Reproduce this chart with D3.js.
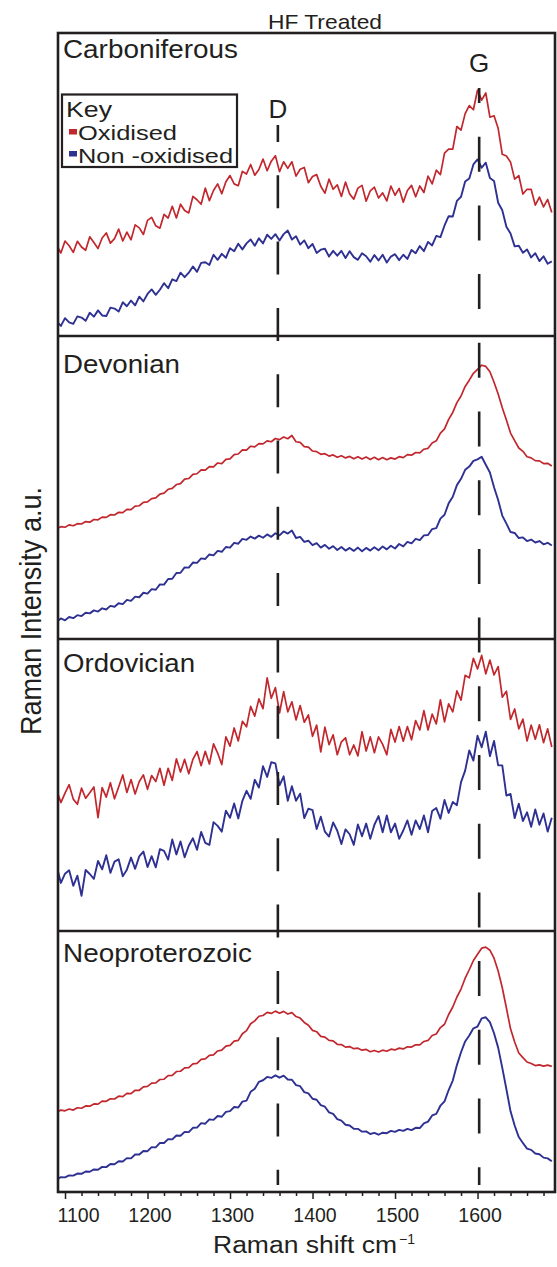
<!DOCTYPE html>
<html>
<head>
<meta charset="utf-8">
<script src="https://cdn.jsdelivr.net/npm/d3@7"></script>
<style>
  body { margin: 0; background: #fff; }
  text { font-family: "Liberation Sans", Arial, sans-serif; fill: #231f20; }
</style>
</head>
<body>
<svg id="chart" width="557" height="1267"></svg>
<script>
// raman shift grid (cm-1), one reading every 5 cm-1
var shift = d3.range(1090, 1695, 5);

var periods = ["Carboniferous", "Devonian", "Ordovician", "Neoproterozoic"];
var xTicks = [1100, 1200, 1300, 1400, 1500, 1600];
var bands = ["D", "G"];
var bandPos = [1358, 1602];

// intensities in a.u., each panel normalised 0-100
var carbOx = [29.6,27.1,31.1,29.5,27.3,31.0,29.1,28.0,32.5,30.6,
  28.6,32.1,33.8,30.4,31.9,35.1,31.1,34.1,31.5,36.5,
  35.5,33.3,38.0,39.0,36.2,35.4,40.0,38.8,42.7,38.8,
  43.4,41.3,40.5,46.0,44.9,43.4,48.8,44.6,48.0,50.2,
  46.9,50.9,53.0,50.2,49.6,54.4,53.5,56.7,53.1,55.0,
  58.5,54.6,57.8,59.6,54.3,57.6,55.4,57.6,52.8,55.1,
  55.7,50.6,52.7,53.3,49.4,47.1,51.8,48.4,49.9,46.0,
  50.8,46.8,45.1,48.8,49.7,44.4,47.9,49.1,45.5,47.2,
  44.5,49.5,46.4,48.7,44.1,48.0,49.7,45.9,49.5,47.3,
  52.8,50.2,54.8,53.3,60.5,61.8,61.8,69.4,68.2,73.7,
  76.4,75.0,81.6,78.2,80.6,72.5,73.0,68.8,60.1,59.5,
  57.5,51.8,53.0,46.8,48.4,48.4,43.1,45.8,42.5,45.0,
  40.6];
var carbNon = [4.2,2.7,5.3,3.9,3.4,5.9,5.5,4.4,7.1,5.8,
  7.9,6.2,6.0,8.8,8.5,7.5,10.6,9.3,11.2,9.6,
  12.5,10.9,13.4,14.9,13.1,14.8,17.0,15.3,18.3,17.7,
  20.5,19.0,20.5,22.6,20.8,23.8,24.0,23.1,26.5,24.8,
  26.8,25.5,28.7,27.7,30.2,28.3,30.3,31.6,29.5,32.0,
  30.3,33.2,31.8,33.4,31.3,33.4,34.6,31.6,32.7,29.9,
  31.3,28.7,30.1,27.1,28.2,28.5,25.9,27.8,26.2,27.8,
  25.4,27.7,25.7,24.8,27.0,26.0,24.2,26.4,24.6,26.5,
  23.9,25.9,26.7,24.7,26.5,25.1,28.1,27.0,29.4,27.7,
  30.8,29.6,32.8,32.4,36.3,39.4,39.3,44.5,45.9,51.0,
  52.0,56.7,58.4,55.6,57.3,52.2,51.2,43.9,41.4,35.9,
  33.6,29.3,29.5,27.2,28.3,25.6,27.0,24.4,26.0,23.5,
  24.3];
var devOx = [36.2,36.9,36.7,37.5,37.2,37.9,37.8,38.6,38.4,39.3,
  39.2,40.1,40.0,40.9,40.8,41.7,41.6,42.7,42.6,43.8,
  43.9,45.0,45.2,46.3,46.5,47.8,48.1,49.4,49.7,51.0,
  51.3,52.8,53.0,54.4,54.6,55.9,55.8,57.0,56.9,58.2,
  58.0,59.4,59.6,61.0,61.2,62.6,62.5,63.8,63.6,64.7,
  64.6,65.6,65.3,66.4,66.0,66.9,66.3,67.4,65.3,65.1,
  63.7,63.5,62.2,62.0,61.1,61.3,60.5,60.9,60.1,60.6,
  59.9,60.4,59.6,60.3,59.5,60.2,59.4,60.1,59.3,60.0,
  59.3,59.9,59.5,60.3,60.0,61.0,60.8,61.7,61.6,62.8,
  63.1,64.9,65.6,68.2,69.6,72.8,75.1,78.4,80.6,83.8,
  85.9,88.2,89.5,90.9,90.5,88.7,85.2,81.3,76.7,72.6,
  68.2,65.7,63.2,62.1,60.3,59.9,59.0,58.9,58.0,58.1,
  57.2];
var devNon = [5.1,6.2,5.6,6.7,6.3,7.3,7.0,8.1,7.9,8.9,
  8.5,9.6,9.2,10.4,10.1,11.3,11.0,12.4,12.1,13.5,
  13.3,14.8,14.5,16.0,15.8,17.6,17.5,19.4,19.5,21.4,
  21.5,23.3,23.2,24.9,24.8,26.3,26.1,27.6,27.3,28.8,
  28.5,30.1,29.9,31.5,31.2,32.8,32.5,33.6,32.9,33.9,
  33.2,34.3,33.5,34.7,34.0,35.3,34.6,35.6,33.1,33.5,
  31.8,32.2,30.7,31.4,29.9,30.8,29.5,30.4,29.1,30.1,
  28.9,29.8,28.8,29.9,28.7,29.8,28.9,30.0,29.0,30.3,
  29.3,30.5,29.6,31.1,30.3,31.8,31.3,32.8,32.4,34.0,
  34.1,36.1,36.4,39.6,40.9,44.7,46.9,50.8,52.9,55.9,
  57.0,58.9,59.4,60.3,57.6,55.0,50.1,45.8,40.6,37.9,
  35.1,34.8,33.1,33.3,32.1,32.6,31.6,32.1,31.0,31.5,
  30.6];
var ordOx = [48.1,43.9,47.2,50.1,45.1,43.3,48.9,45.4,47.3,49.3,
  38.7,49.1,45.8,50.8,45.2,49.3,53.5,47.4,51.9,46.9,
  51.2,53.5,48.5,53.3,51.2,55.8,49.9,55.8,51.6,59.1,
  54.5,58.9,53.9,58.9,61.6,56.7,61.7,57.3,64.3,61.1,
  57.1,66.7,63.5,69.8,65.3,72.1,70.2,77.3,73.9,79.9,
  76.5,87.2,80.1,83.8,75.0,82.4,75.4,78.9,72.6,77.6,
  71.8,74.3,66.9,70.8,61.5,70.1,64.0,67.4,60.5,65.0,
  66.4,60.5,63.9,60.1,68.5,61.8,66.7,61.2,66.7,64.1,
  60.5,69.3,64.9,70.3,65.2,70.3,65.7,72.4,69.1,75.8,
  69.1,74.6,71.2,79.6,71.9,78.2,75.4,82.7,79.5,88.1,
  87.2,94.0,90.3,95.0,88.6,93.4,88.2,91.1,80.5,82.6,
  72.8,76.4,69.5,72.9,65.3,70.8,65.9,70.9,64.7,69.5,
  63.2];
var ordNon = [21.7,16.0,19.2,20.4,15.0,18.5,11.5,20.5,19.1,17.4,
  23.6,20.7,25.6,19.5,23.4,24.2,18.3,20.6,24.8,20.9,
  25.2,26.9,21.5,25.3,21.4,27.7,27.1,24.1,31.1,25.9,
  30.4,24.9,28.9,31.5,27.5,33.7,29.9,29.2,37.1,35.8,
  33.8,41.1,38.6,43.6,38.4,44.5,48.0,45.2,51.8,49.1,
  56.5,52.8,57.9,57.5,49.9,53.0,44.5,49.6,44.5,47.0,
  38.5,41.8,41.3,34.7,39.0,33.8,32.1,37.0,34.1,29.5,
  34.6,32.9,29.2,36.3,32.2,36.6,31.3,36.2,39.2,33.6,
  39.4,33.6,36.6,31.3,34.2,37.7,32.7,37.7,34.7,39.4,
  33.6,41.0,42.0,38.3,44.8,40.3,44.1,43.0,51.0,55.0,
  62.0,58.5,67.1,63.1,68.5,60.0,65.3,56.8,56.8,46.3,
  46.9,38.5,43.5,37.5,40.5,35.5,41.5,36.2,40.1,33.8,
  38.6];
var neoOx = [30.3,31.1,30.8,31.5,31.1,32.0,31.8,32.7,32.6,33.5,
  33.4,34.6,34.5,35.5,35.4,36.5,36.3,37.6,37.5,38.8,
  38.8,40.1,40.3,41.6,41.7,43.0,43.1,44.5,44.6,46.1,
  46.2,47.5,47.6,49.1,49.3,50.8,51.0,52.4,52.6,54.1,
  54.4,56.0,56.3,57.9,58.2,60.8,62.0,64.7,65.8,67.6,
  67.9,69.1,68.7,69.6,68.8,69.5,68.5,69.0,67.5,66.9,
  65.2,64.1,62.1,61.6,59.8,59.5,58.2,58.0,56.7,56.6,
  55.6,55.8,55.0,55.2,54.4,54.7,53.8,54.3,53.7,54.4,
  54.0,54.8,54.5,55.2,54.9,55.7,55.6,56.5,56.5,57.8,
  58.2,60.1,60.7,63.2,64.5,68.3,71.2,75.1,78.2,82.4,
  85.7,89.3,91.7,94.1,94.5,93.3,90.2,85.2,78.7,70.8,
  62.7,57.6,53.3,51.5,49.8,49.2,48.4,48.7,48.2,48.6,
  48.1];
var neoNon = [4.1,5.0,4.9,5.7,5.6,6.4,6.3,7.2,7.1,8.0,
  7.9,9.0,8.9,10.1,10.0,11.2,11.1,12.4,12.3,13.8,
  13.8,15.2,15.1,16.7,16.6,18.3,18.3,19.8,19.7,21.2,
  21.1,22.6,22.5,24.2,24.3,26.0,25.8,27.5,27.3,28.8,
  28.5,30.4,30.7,32.3,32.1,34.4,34.8,38.2,39.4,42.1,
  42.7,44.0,43.6,44.6,43.7,44.5,43.0,42.9,40.8,40.4,
  38.1,37.6,35.5,35.1,33.0,32.4,30.2,29.6,27.6,27.0,
  25.4,25.1,23.8,23.8,22.7,22.8,21.8,22.2,21.5,22.3,
  22.1,23.0,22.6,23.4,23.0,23.8,23.3,24.2,24.1,25.9,
  26.6,29.0,29.6,32.8,34.5,38.9,42.6,48.6,53.6,57.8,
  60.1,62.9,63.6,66.8,67.2,65.3,61.0,55.4,47.5,39.2,
  30.6,25.1,20.6,18.3,16.1,15.6,14.2,13.9,12.6,12.3,
  11.2];

var oxSeries = [carbOx, devOx, ordOx, neoOx];
var nonSeries = [carbNon, devNon, ordNon, neoNon];

var RED = "#c1272d", BLUE = "#2e3192", INK = "#231f20";

var svg = d3.select("#chart");
var left = 58, right = 555;
var tops = [33, 336, 639, 931], bottom = 1192;
var labelDrop = [25, 37, 33, 31];
var labelWidth = [175, 117, 132, 189];

var x = d3.scaleLinear().domain([1091.5, 1693.9]).range([left, right]);

svg.append("clipPath").attr("id", "clip")
  .append("rect").attr("x", left).attr("y", tops[0])
  .attr("width", right - left).attr("height", bottom - tops[0]);

var plots = svg.append("g").attr("clip-path", "url(#clip)");

periods.forEach(function(name, i) {
  var y0 = tops[i], y1 = i < 3 ? tops[i + 1] : bottom;
  var y = d3.scaleLinear().domain([0, 100]).range([y1 - 2, y0 + 2]);
  var line = d3.line()
    .x(function(d, j) { return x(shift[j]); })
    .y(function(d) { return y(d); });

  plots.append("path").datum(oxSeries[i])
    .attr("d", line).attr("fill", "none")
    .attr("stroke", RED).attr("stroke-width", 1.7)
    .attr("stroke-linejoin", "round");
  plots.append("path").datum(nonSeries[i])
    .attr("d", line).attr("fill", "none")
    .attr("stroke", BLUE).attr("stroke-width", 1.9)
    .attr("stroke-linejoin", "round");

  svg.append("text")
    .attr("x", 63).attr("y", y0 + labelDrop[i])
    .attr("font-size", 25)
    .attr("textLength", labelWidth[i]).attr("lengthAdjust", "spacingAndGlyphs")
    .text(name);
});

// D and G band markers
var bandTop = [125, 88], dash = ["33,33.3", "35,33.7"], dashOff = [16, 20];
svg.selectAll(".band").data(bands).enter().append("line")
  .attr("class", "band")
  .attr("x1", function(d, i) { return x(bandPos[i]); })
  .attr("x2", function(d, i) { return x(bandPos[i]); })
  .attr("y1", function(d, i) { return bandTop[i]; })
  .attr("y2", 1185)
  .attr("stroke", INK).attr("stroke-width", 2.6)
  .attr("stroke-dasharray", function(d, i) { return dash[i]; })
  .attr("stroke-dashoffset", function(d, i) { return dashOff[i]; });

var bandLabelY = [118, 72];
svg.selectAll(".bandLabel").data(bands).enter().append("text")
  .attr("x", function(d, i) { return x(bandPos[i]); })
  .attr("y", function(d, i) { return bandLabelY[i]; })
  .attr("text-anchor", "middle").attr("font-size", 26)
  .text(function(d) { return d; });

// frame + panel dividers
svg.append("rect")
  .attr("x", left).attr("y", tops[0])
  .attr("width", right - left).attr("height", bottom - tops[0])
  .attr("fill", "none").attr("stroke", INK).attr("stroke-width", 2.6);
svg.selectAll(".divider").data(tops.slice(1)).enter().append("line")
  .attr("x1", left).attr("x2", right)
  .attr("y1", function(d) { return d; }).attr("y2", function(d) { return d; })
  .attr("stroke", INK).attr("stroke-width", 2.6);

// x axis
var minor = d3.range(1100, 1700, 20).filter(function(d) { return d % 100 !== 0; });
var axMinor = svg.append("g").attr("transform", "translate(0," + bottom + ")")
  .call(d3.axisBottom(x).tickValues(minor).tickSize(4).tickFormat(""));
var axMajor = svg.append("g").attr("transform", "translate(0," + bottom + ")")
  .call(d3.axisBottom(x).tickValues(xTicks).tickSize(7).tickPadding(9.5)
    .tickFormat(d3.format("d")));
[axMinor, axMajor].forEach(function(g) {
  g.select(".domain").remove();
  g.selectAll("line").attr("stroke", INK).attr("stroke-width", 1.5);
});
axMajor.selectAll("text")
  .attr("font-size", 19.5).attr("font-family", "Liberation Sans, Arial")
  .attr("fill", INK)
  .attr("dx", function(d) { return d === 1100 ? 13 : 2; });

svg.append("text")
  .attr("x", 213).attr("y", 1253).attr("font-size", 23)
  .attr("textLength", 184).attr("lengthAdjust", "spacingAndGlyphs")
  .text("Raman shift cm");
svg.append("text")
  .attr("x", 399).attr("y", 1244).attr("font-size", 14)
  .text("\u22121");

svg.append("text")
  .attr("transform", "translate(41,611) rotate(-90)")
  .attr("text-anchor", "middle").attr("font-size", 30)
  .attr("textLength", 248).attr("lengthAdjust", "spacingAndGlyphs")
  .text("Raman Intensity a.u.");

svg.append("text")
  .attr("x", 268).attr("y", 29).attr("font-size", 21)
  .attr("textLength", 114).attr("lengthAdjust", "spacingAndGlyphs")
  .text("HF Treated");

// key
var key = svg.append("g");
key.append("rect")
  .attr("x", 62).attr("y", 94.5).attr("width", 175).attr("height", 72.5)
  .attr("fill", "#fff").attr("stroke", INK).attr("stroke-width", 2.2);
key.append("text").attr("x", 66).attr("y", 117).attr("font-size", 22)
  .attr("textLength", 46).attr("lengthAdjust", "spacingAndGlyphs")
  .text("Key");
var keyNames = ["Oxidised", "Non -oxidised"], keyColors = [RED, BLUE];
var keyWidth = [99, 155];
keyNames.forEach(function(k, i) {
  key.append("rect")
    .attr("x", 69).attr("y", 129 + i * 22).attr("width", 8).attr("height", 5.5)
    .attr("fill", keyColors[i]);
  key.append("text")
    .attr("x", 78).attr("y", 140 + i * 22.5).attr("font-size", 20)
    .attr("textLength", keyWidth[i]).attr("lengthAdjust", "spacingAndGlyphs")
    .text(k);
});
</script>
</body>
</html>
